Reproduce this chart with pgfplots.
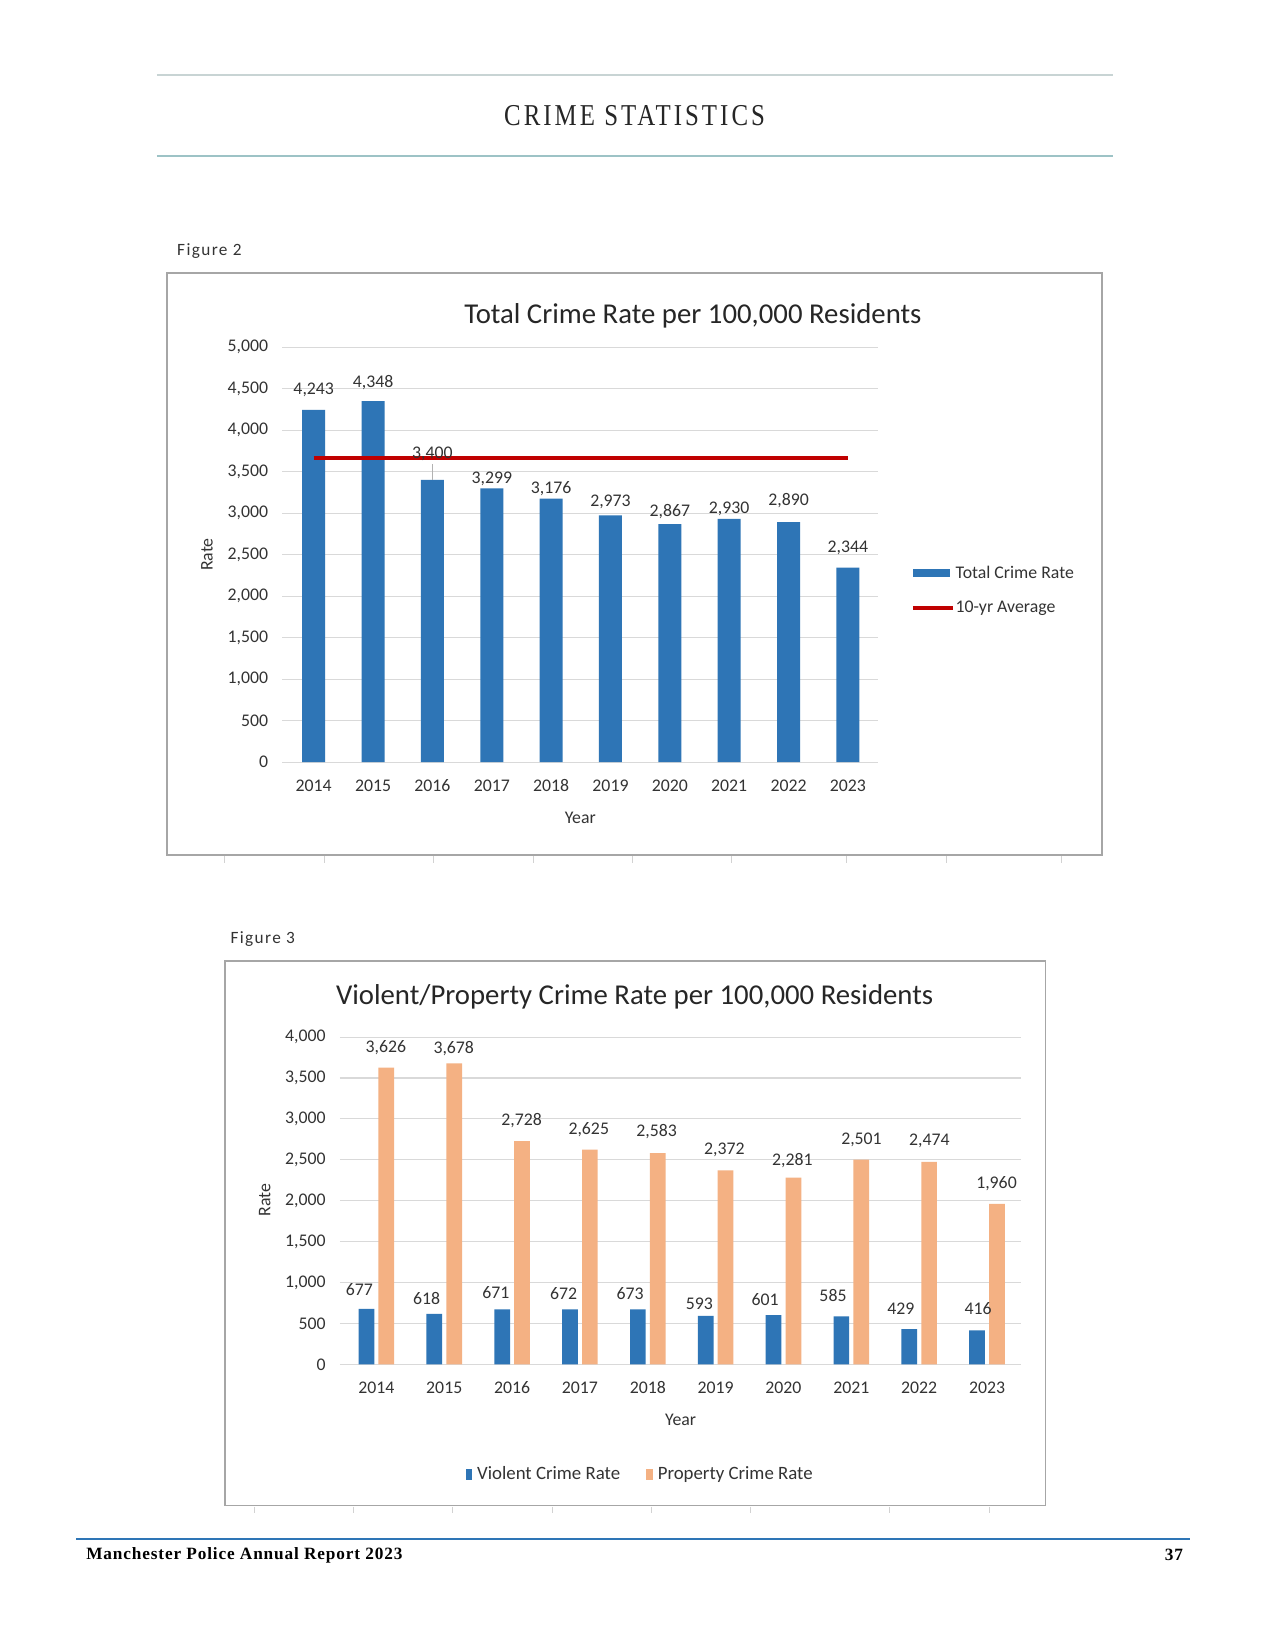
\documentclass[border=0pt]{standalone}
\usepackage{fontspec}
\setmainfont{Carlito}
\newfontfamily\headfont[FakeStretch=0.82,LetterSpace=10]{Liberation Serif}
\newfontfamily\footfont[LetterSpace=5]{Liberation Serif}
\newfontfamily\figfont[LetterSpace=8]{Carlito}
\usepackage{pgfplots}
\usepackage{pgfplotstable}
\pgfplotsset{compat=1.18}

\definecolor{barblue}{HTML}{2E75B6}
\definecolor{barorange}{HTML}{F4B183}
\definecolor{avgred}{HTML}{C00000}
\definecolor{gridgray}{HTML}{D9D9D9}
\definecolor{ticktext}{HTML}{333333}
\definecolor{titletext}{HTML}{262626}
\definecolor{framegray}{HTML}{A6A6A6}

\pgfplotstableread{
x total
0 4243
1 4348
2 3400
3 3299
4 3176
5 2973
6 2867
7 2930
8 2890
9 2344
}\totaltable

\pgfplotstableread{
x violent property
0 677 3626
1 618 3678
2 671 2728
3 672 2625
4 673 2583
5 593 2372
6 601 2281
7 585 2501
8 429 2474
9 416 1960
}\vptable

\pgfplotsset{
  excel/.style={
    scale only axis,
    clip=false,
    axis line style={draw=none},
    major tick length=0pt,
    ymajorgrids,
    grid style={gridgray, line width=1pt},
    ymin=0,
    xtick={0,1,2,3,4,5,6,7,8,9},
    xticklabels={2014,2015,2016,2017,2018,2019,2020,2021,2022,2023},
    tick label style={font=\fontsize{17}{20}\selectfont, text=ticktext},
    yticklabel style={xshift=-10pt},
    xticklabel style={anchor=center, text height=11.5pt, text depth=0pt, yshift=-22pt},
    /pgf/number format/1000 sep={,},
    /pgf/number format/assume math mode=true,
    label style={font=\fontsize{17}{20}\selectfont, text=ticktext},
    title style={font=\fontsize{27.5}{33}\selectfont, text=titletext, anchor=center},
    legend style={draw=none, fill=none, font=\fontsize{17}{20}\selectfont, text=ticktext},
  },
  lbl/.style={draw=none, forget plot, nodes near coords, point meta=explicit symbolic,
    nodes near coords style={font=\fontsize{17}{20}\selectfont, text=ticktext, anchor=center,
      inner sep=1pt, text height=11.5pt, text depth=2pt}},
}

\begin{document}
\begin{tikzpicture}
\fill[white] (0pt,0pt) rectangle (1210pt,-1566.8pt);

% header
\draw[color={rgb,255:red,200;green,212;blue,212}, line width=1.5pt] (150pt,-72pt) -- (1065pt,-72pt);
\draw[color={rgb,255:red,157;green,195;blue,198}, line width=2pt] (150pt,-149pt) -- (1065pt,-149pt);
\node[text=titletext, font=\headfont\fontsize{29}{34}\selectfont] at (607pt,-111pt) {CRIME STATISTICS};

% Figure 2
\node[anchor=west, text=ticktext, font=\figfont\fontsize{16.5}{19}\selectfont] at (166pt,-240pt) {Figure 2};
\draw[framegray, line width=1.5pt] (160pt,-261pt) rectangle (1054pt,-818pt);
\foreach \t in {215,310,415,510,605,700,810,905,1015}
  \draw[gray!35, line width=0.8pt] (\t pt,-819pt) -- (\t pt,-825pt);

\begin{axis}[excel,
  at={(270pt,-729pt)}, anchor=south west,
  width=570pt, height=397pt,
  xmin=-0.53, xmax=9.51, ymax=5000,
  ytick={0,500,...,5000},
  title={Total Crime Rate per 100,000 Residents},
  title style={at={(0.689,1.0604)}},
  xlabel={Year}, xlabel style={at={(0.5,-0.1335)}, anchor=center},
  ylabel={Rate}, ylabel style={at={(-0.1263,0.5)}, anchor=center},
  legend style={at={(1.049,0.48)}, anchor=north west, row sep=18pt,
    nodes={inner sep=1pt}},
  legend cell align=left,
]
\addplot[ybar, bar width=22pt, bar shift=0pt, fill=barblue, draw=none,
  legend image code/.code={\fill[barblue] (0pt,-4pt) rectangle (36pt,4pt);}]
  table[x=x, y=total] {\totaltable};
\addlegendentry{Total Crime Rate}
\addplot[avgred, line width=4pt,
  legend image code/.code={\draw[avgred, line width=4pt] (0pt,0pt) -- (38pt,0pt);}]
  coordinates {(0,3665) (9,3665)};
\addlegendentry{10-yr Average}
\addplot[gray!60, line width=0.8pt, forget plot] coordinates {(2,3400) (2,3590)};
\addplot[lbl] table[x=lx, y=ly, meta=lab] {
lx ly lab
0 4483 4,243
1 4572 4,348
2 3715 3,400
3 3413 3,299
4 3300 3,176
5 3136 2,973
6 3023 2,867
7 3060 2,930
8 3149 2,890
9 2582 2,344
};
\end{axis}

% Figure 3
\node[anchor=west, text=ticktext, font=\figfont\fontsize{16.5}{19}\selectfont] at (217pt,-898pt) {Figure 3};
\draw[framegray, line width=1.5pt] (215pt,-919pt) rectangle (1000pt,-1440pt);
\foreach \t in {243,338,433,528,623,718,851,946}
  \draw[gray!35, line width=0.8pt] (\t pt,-1441pt) -- (\t pt,-1447pt);

\begin{axis}[excel,
  at={(325pt,-1305pt)}, anchor=south west,
  width=652pt, height=313pt,
  xmin=-0.54, xmax=9.507, ymax=4000,
  ytick={0,500,...,4000},
  title={Violent/Property Crime Rate per 100,000 Residents},
  title style={at={(0.4325,1.1054)}},
  xlabel={Year}, xlabel style={at={(0.5,-0.169)}, anchor=center},
  ylabel={Rate}, ylabel style={at={(-0.110,0.5016)}, anchor=center},
  legend columns=2,
  legend style={at={(0.44,-0.335)}, anchor=center, font=\fontsize{18}{21}\selectfont,
    /tikz/every even column/.append style={column sep=24pt},
    nodes={inner sep=1pt}},
]
\addplot[ybar, bar width=15pt, bar shift=-9.5pt, fill=barblue, draw=none,
  legend image code/.code={\fill[barblue] (0pt,-5.5pt) rectangle (6.5pt,5pt); \path (10pt,0pt);}]
  table[x=x, y=violent] {\vptable};
\addlegendentry{Violent Crime Rate}
\addplot[ybar, bar width=15pt, bar shift=9.5pt, fill=barorange, draw=none,
  legend image code/.code={\fill[barorange] (0pt,-5.5pt) rectangle (6.5pt,5pt); \path (10pt,0pt);}]
  table[x=x, y=property] {\vptable};
\addlegendentry{Property Crime Rate}
\addplot[lbl] table[x=lx, y=ly, meta=lab] {
lx ly lab
-0.25 907 677
0.74 792 618
1.76 869 671
2.76 856 672
3.74 856 673
4.76 728 593
5.73 780 601
6.73 831 585
7.73 665 429
8.87 665 416
};
\addplot[lbl] table[x=lx, y=ly, meta=lab] {
lx ly lab
0.14 3872 3,626
1.14 3860 3,678
2.14 2978 2,728
3.13 2876 2,625
4.13 2850 2,583
5.13 2620 2,372
6.13 2492 2,281
7.15 2748 2,501
8.15 2735 2,474
9.14 2211 1,960
};
\end{axis}

% footer
\draw[barblue, line width=2pt] (73pt,-1472pt) -- (1138pt,-1472pt);
\node[anchor=west, font=\footfont\bfseries\fontsize{16.5}{19}\selectfont] at (79pt,-1488pt) {Manchester Police Annual Report 2023};
\node[anchor=east, font=\footfont\bfseries\fontsize{16.5}{19}\selectfont] at (1135pt,-1487pt) {37};

\pgfresetboundingbox
\useasboundingbox (0pt,0pt) rectangle (1210pt,-1566.8pt);
\end{tikzpicture}
\end{document}
